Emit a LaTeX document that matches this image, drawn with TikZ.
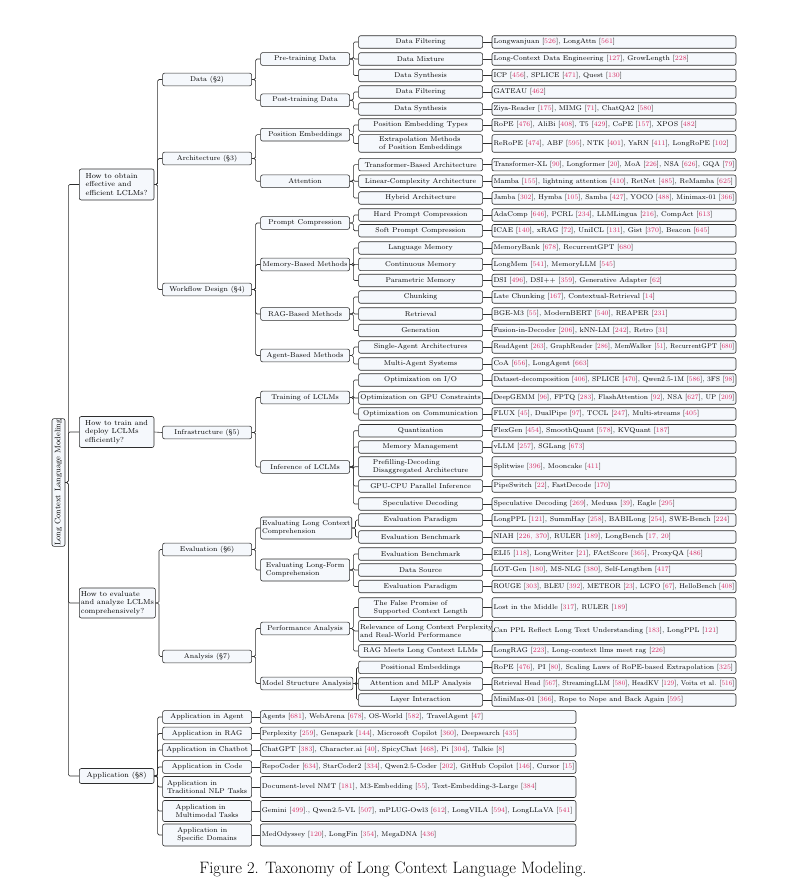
\documentclass[tikz,border=0pt]{standalone}
\usepackage{xcolor}
\usepackage{graphicx}
\definecolor{boxfill}{RGB}{245,248,252}
\definecolor{linec}{RGB}{45,45,45}
\definecolor{citec}{RGB}{214,45,100}
\newcommand{\rf}[1]{[\textcolor{citec}{#1}]}
\newsavebox{\fitbox}
\newcommand{\fitl}[2]{\sbox{\fitbox}{#2}\ifdim\wd\fitbox>#1\relax\resizebox{#1}{\height}{\usebox{\fitbox}}\else\makebox[#1][l]{\usebox{\fitbox}}\fi}
\tikzset{
  bx/.style={draw=linec, fill=boxfill, rounded corners=2pt, line width=0.6pt,
    inner xsep=1.5pt, inner ysep=0.5pt, font=\fontsize{7}{7.8}\selectfont,
    anchor=west, align=center},
  qbox/.style={bx, minimum width=74.7pt, minimum height=31pt, align=left,
    font=\fontsize{7.3}{8.7}\selectfont},
  lvtwo/.style={bx, minimum width=89pt, minimum height=12.7pt},
  lvthree/.style={bx, minimum width=89pt, minimum height=12.7pt, align=left},
  lvfour/.style={bx, minimum width=124pt, minimum height=12.5pt, align=left},
  leaf/.style={bx, minimum height=12.5pt, font=\fontsize{6.9}{7.8}\selectfont},
  appleaf/.style={bx, minimum height=12.7pt, font=\fontsize{6.9}{7.8}\selectfont},
  conn/.style={draw=linec, line width=0.6pt, rounded corners=1.5pt},
}
\newcommand{\myrow}[6]{%
  \node[lvfour, minimum height=#3] (#1) at (358.3,#2) {#4};
  \node[leaf, minimum height=#3] (#1l) at (491.7,#2) {\fitl{241pt}{#5}};
  \draw[conn] (#6.east) -- ++(3.4,0) |- (#1.west);
  \draw[conn] (#1.east) -- (#1l.west);
}
\newcommand{\myapp}[5]{%
  \node[lvtwo, align=left, minimum height=#3] (#1) at (162.3,#2) {#4};
  \node[appleaf, minimum height=#3] (#1l) at (260,#2) {\fitl{312.7pt}{#5}};
  \draw[conn] (q4.east) -- ++(3.3,0) |- (#1.west);
  \draw[conn] (#1.east) -- (#1l.west);
}
\begin{document}
\begin{tikzpicture}[x=1pt,y=-1pt]
\useasboundingbox (0,0) rectangle (803,896);

% root
\node[draw=linec, fill=boxfill, rounded corners=2pt, line width=0.6pt,
  rotate=90, minimum width=121pt, minimum height=13pt, inner sep=0.5pt,
  font=\fontsize{8}{9}\selectfont] (root) at (58.5,482.5) {Long Context Language Modeling};

% level 1
\node[qbox] (q1) at (79,184.5) {How to obtain\\effective and\\efficient LCLMs?};
\node[qbox] (q2) at (79,432) {How to train and\\deploy LCLMs\\efficiently?};
\node[qbox, minimum height=30pt] (q3) at (79,603) {How to evaluate\\and analyze LCLMs\\comprehensively?};
\node[qbox, minimum height=15pt, align=center] (q4) at (79,776) {Application (\S8)};
\foreach \q in {q1,q2,q3,q4} \draw[conn] (root.south) -- ++(3,0) |- (\q.west);

% level 2
\node[lvtwo] (data) at (162.3,79.5) {Data (\S2)};
\node[lvtwo] (arch) at (162.3,158.5) {Architecture (\S3)};
\node[lvtwo] (work) at (162.3,289.5) {Workflow Design (\S4)};
\node[lvtwo] (infra) at (162.3,432.5) {Infrastructure (\S5)};
\node[lvtwo] (eval) at (162.3,549.5) {Evaluation (\S6)};
\node[lvtwo] (anal) at (162.3,656.5) {Analysis (\S7)};
\foreach \c in {data,arch,work} \draw[conn] (q1.east) -- ++(3.3,0) |- (\c.west);
\draw[conn] (q2.east) -- (infra.west);
\foreach \c in {eval,anal} \draw[conn] (q3.east) -- ++(3.3,0) |- (\c.west);

% level 3
\node[lvthree] (pre) at (260.3,59) {Pre-training Data};
\node[lvthree] (post) at (260.3,100.3) {Post-training Data};
\node[lvthree] (pe) at (260.3,134.7) {Position Embeddings};
\node[lvthree] (att) at (260.3,181.3) {Attention};
\node[lvthree] (pc) at (260.3,223) {Prompt Compression};
\node[lvthree] (mem) at (260.3,264.5) {Memory-Based Methods};
\node[lvthree] (ragm) at (260.3,314) {RAG-Based Methods};
\node[lvthree] (agm) at (260.3,355.5) {Agent-Based Methods};
\node[lvthree] (train) at (260.3,397.5) {Training of LCLMs};
\node[lvthree] (inf) at (260.3,467) {Inference of LCLMs};
\node[lvthree, minimum height=22pt] (elc) at (260.3,528) {Evaluating Long Context\\Comprehension};
\node[lvthree, minimum height=22pt] (elf) at (260.3,570) {Evaluating Long-Form\\Comprehension};
\node[lvthree] (perf) at (260.3,628.5) {Performance Analysis};
\node[lvthree] (msa) at (260.3,683.5) {Model Structure Analysis};
\foreach \p/\c in {data/pre,data/post,arch/pe,arch/att,work/pc,work/mem,work/ragm,work/agm,
  infra/train,infra/inf,eval/elc,eval/elf,anal/perf,anal/msa}
  \draw[conn] (\p.east) -- ++(3.7,0) |- (\c.west);

% level 4 + leaves
\myrow{a1}{42}{12.5pt}{Data Filtering}{Longwanjuan \rf{526}, LongAttn \rf{561}}{pre}
\myrow{a2}{59}{12.5pt}{Data Mixture}{Long-Context Data Engineering \rf{127}, GrowLength \rf{228}}{pre}
\myrow{a3}{75.5}{12.5pt}{Data Synthesis}{ICP \rf{456}, SPLICE \rf{471}, Quest \rf{130}}{pre}
\myrow{a4}{92}{12.5pt}{Data Filtering}{GATEAU \rf{462}}{post}
\myrow{a5}{109}{12.5pt}{Data Synthesis}{Ziya-Reader \rf{175}, MIMG \rf{71}, ChatQA2 \rf{580}}{post}
\myrow{a6}{125}{12.5pt}{Position Embedding Types}{RoPE \rf{476}, AliBi \rf{408}, T5 \rf{429}, CoPE \rf{157}, XPOS \rf{482}}{pe}
\myrow{a7}{143.5}{17.6pt}{Extrapolation Methods\\of Position Embeddings}{ReRoPE \rf{474}, ABF \rf{595}, NTK \rf{401}, YaRN \rf{411}, LongRoPE \rf{102}}{pe}
\myrow{a8}{164.7}{12.5pt}{Transformer-Based Architecture}{Transformer-XL \rf{90}, Longformer \rf{20}, MoA \rf{226}, NSA \rf{626}, GQA \rf{79}}{att}
\myrow{a9}{181.3}{12.5pt}{Linear-Complexity Architecture}{Mamba \rf{155}, lightning attention \rf{410}, RetNet \rf{485}, ReMamba \rf{625}}{att}
\myrow{a10}{198}{12.5pt}{Hybrid Architecture}{Jamba \rf{302}, Hymba \rf{105}, Samba \rf{427}, YOCO \rf{488}, Minimax-01 \rf{366}}{att}
\myrow{a11}{215}{12.5pt}{Hard Prompt Compression}{AdaComp \rf{646}, PCRL \rf{234}, LLMLingua \rf{216}, CompAct \rf{613}}{pc}
\myrow{a12}{230.7}{12.5pt}{Soft Prompt Compression}{ICAE \rf{140}, xRAG \rf{72}, UniICL \rf{131}, Gist \rf{370}, Beacon \rf{645}}{pc}
\myrow{a13}{248}{12.5pt}{Language Memory}{MemoryBank \rf{678}, RecurrentGPT \rf{680}}{mem}
\myrow{a14}{264.3}{12.5pt}{Continuous Memory}{LongMem \rf{541}, MemoryLLM \rf{545}}{mem}
\myrow{a15}{280.5}{12.5pt}{Parametric Memory}{DSI \rf{496}, DSI++ \rf{359}, Generative Adapter \rf{62}}{mem}
\myrow{a16}{297}{12.5pt}{Chunking}{Late Chunking \rf{167}, Contextual-Retrieval \rf{14}}{ragm}
\myrow{a17}{314}{12.5pt}{Retrieval}{BGE-M3 \rf{55}, ModernBERT \rf{540}, REAPER \rf{231}}{ragm}
\myrow{a18}{330.5}{12.5pt}{Generation}{Fusion-in-Decoder \rf{206}, kNN-LM \rf{242}, Retro \rf{31}}{ragm}
\myrow{a19}{347}{12.5pt}{Single-Agent Architectures}{ReadAgent \rf{263}, GraphReader \rf{286}, MemWalker \rf{51}, RecurrentGPT \rf{680}}{agm}
\myrow{a20}{364}{12.5pt}{Multi-Agent Systems}{CoA \rf{656}, LongAgent \rf{663}}{agm}
\myrow{a21}{380}{12.5pt}{Optimization on I/O}{Dataset-decomposition \rf{406}, SPLICE \rf{470}, Qwen2.5-1M \rf{586}, 3FS \rf{98}}{train}
\myrow{a22}{398}{12.5pt}{Optimization on GPU Constraints}{DeepGEMM \rf{96}, FPTQ \rf{283}, FlashAttention \rf{92}, NSA \rf{627}, UP \rf{209}}{train}
\myrow{a23}{414}{12.5pt}{Optimization on Communication}{FLUX \rf{45}, DualPipe \rf{97}, TCCL \rf{247}, Multi-streams \rf{405}}{train}
\myrow{a24}{430.7}{12.5pt}{Quantization}{FlexGen \rf{454}, SmoothQuant \rf{578}, KVQuant \rf{187}}{inf}
\myrow{a25}{447}{12.5pt}{Memory Management}{vLLM \rf{257}, SGLang \rf{673}}{inf}
\myrow{a26}{466.7}{20pt}{Prefilling-Decoding\\Disaggregated Architecture}{Splitwise \rf{396}, Mooncake \rf{411}}{inf}
\myrow{a27}{486}{12.5pt}{GPU-CPU Parallel Inference}{PipeSwitch \rf{22}, FastDecode \rf{170}}{inf}
\myrow{a28}{504}{12.5pt}{Speculative Decoding}{Speculative Decoding \rf{269}, Medusa \rf{39}, Eagle \rf{295}}{inf}
\myrow{a29}{520}{12.5pt}{Evaluation Paradigm}{LongPPL \rf{121}, SummHay \rf{258}, BABILong \rf{254}, SWE-Bench \rf{224}}{elc}
\myrow{a30}{537}{12.5pt}{Evaluation Benchmark}{NIAH \rf{226, 370}, RULER \rf{189}, LongBench \rf{17, 20}}{elc}
\myrow{a31}{554}{12.5pt}{Evaluation Benchmark}{ELI5 \rf{118}, LongWriter \rf{21}, FActScore \rf{365}, ProxyQA \rf{486}}{elf}
\myrow{a32}{570}{12.5pt}{Data Source}{LOT-Gen \rf{180}, MS-NLG \rf{380}, Self-Lengthen \rf{417}}{elf}
\myrow{a33}{586.5}{12.5pt}{Evaluation Paradigm}{ROUGE \rf{303}, BLEU \rf{392}, METEOR \rf{23}, LCFO \rf{67}, HelloBench \rf{408}}{elf}
\myrow{a34}{607.5}{19.6pt}{The False Promise of\\Supported Context Length}{Lost in the Middle \rf{317}, RULER \rf{189}}{perf}
\myrow{a35}{631}{21pt}{Relevance of Long Context Perplexity\\and Real-World Performance}{Can PPL Reflect Long Text Understanding \rf{183}, LongPPL \rf{121}}{perf}
\myrow{a36}{651}{12.5pt}{RAG Meets Long Context LLMs}{LongRAG \rf{223}, Long-context llms meet rag \rf{226}}{perf}
\myrow{a37}{667.3}{12.5pt}{Positional Embeddings}{RoPE \rf{476}, PI \rf{80}, Scaling Laws of RoPE-based Extrapolation \rf{325}}{msa}
\myrow{a38}{684}{12.5pt}{Attention and MLP Analysis}{Retrieval Head \rf{567}, StreamingLLM \rf{580}, HeadKV \rf{129}, Voita et al. \rf{516}}{msa}
\myrow{a39}{700}{12.5pt}{Layer Interaction}{MiniMax-01 \rf{366}, Rope to Nope and Back Again \rf{595}}{msa}

% applications
\myapp{ag}{717}{12.7pt}{Application in Agent}{Agents \rf{681}, WebArena \rf{678}, OS-World \rf{582}, TravelAgent \rf{47}}
\myapp{rag}{733.5}{12.7pt}{Application in RAG}{Perplexity \rf{259}, Genspark \rf{144}, Microsoft Copilot \rf{360}, Deepsearch \rf{435}}
\myapp{chat}{750}{12.7pt}{Application in Chatbot}{ChatGPT \rf{383}, Character.ai \rf{40}, SpicyChat \rf{468}, Pi \rf{304}, Talkie \rf{8}}
\myapp{code}{767}{12.7pt}{Application in Code}{RepoCoder \rf{634}, StarCoder2 \rf{334}, Qwen2.5-Coder \rf{202}, GitHub Copilot \rf{146}, Cursor \rf{15}}
\myapp{nlp}{787}{21pt}{Application in\\Traditional NLP Tasks}{Document-level NMT \rf{181}, M3-Embedding \rf{55}, Text-Embedding-3-Large \rf{384}}
\myapp{mm}{811}{21pt}{Application in\\Multimodal Tasks}{Gemini \rf{499}., Qwen2.5-VL \rf{507}, mPLUG-Owl3 \rf{612}, LongVILA \rf{594}, LongLLaVA \rf{541}}
\myapp{dom}{835}{22pt}{Application in\\Specific Domains}{MedOdyssey \rf{120}, LongFin \rf{354}, MegaDNA \rf{436}}

% caption
\node[font=\fontsize{16.5}{20}\selectfont] (cap) at (393,869) {Figure 2. Taxonomy of Long Context Language Modeling.};
\end{tikzpicture}
\end{document}
